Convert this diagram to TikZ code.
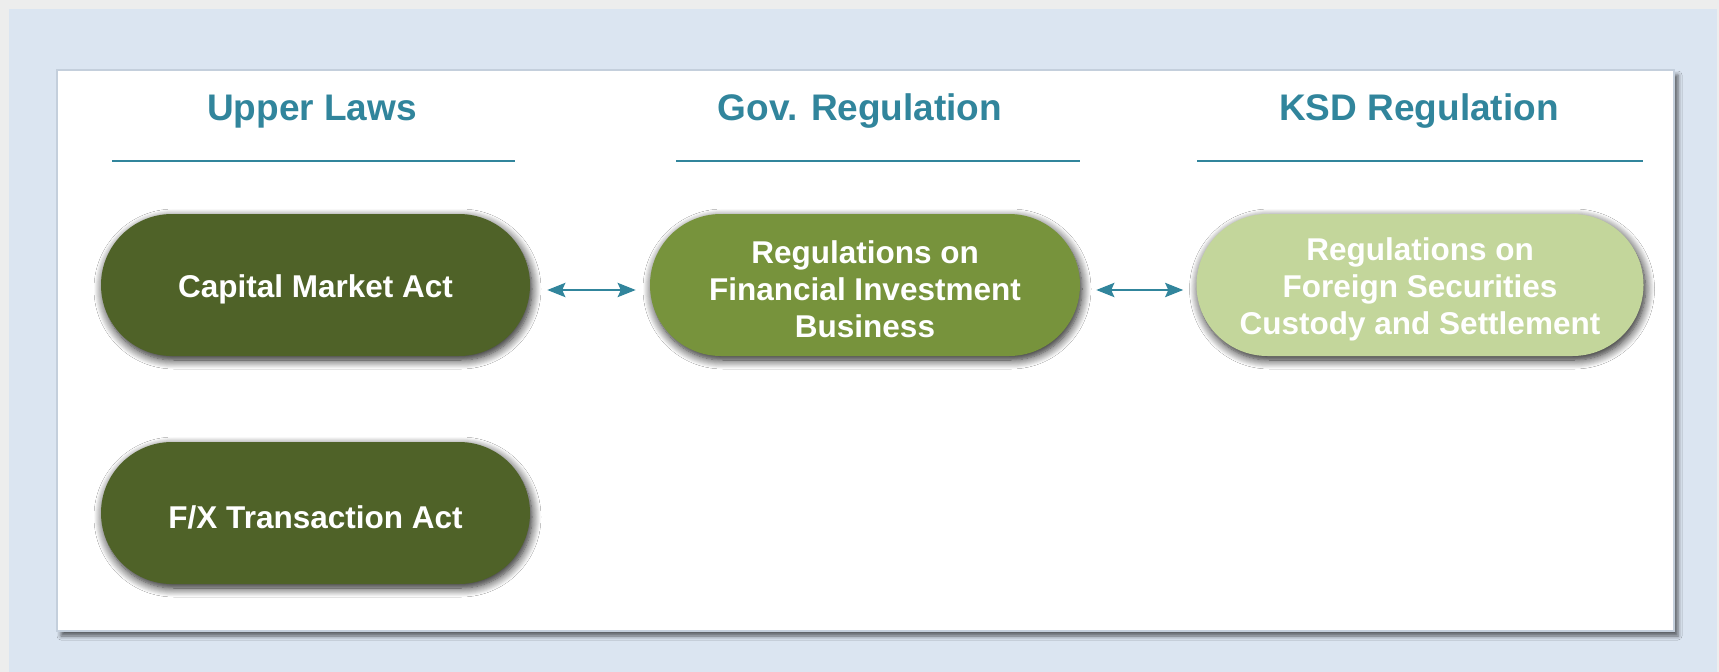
\documentclass[tikz,border=0pt]{standalone}
\usepackage{fontspec}
\setmainfont{Liberation Sans}
\usetikzlibrary{shapes.misc,shadows.blur,arrows.meta}

\definecolor{outergray}{HTML}{EDEDED}
\definecolor{bluebg}{HTML}{DBE5F1}
\definecolor{panelborder}{HTML}{C4CFDC}
\definecolor{teal}{HTML}{31859C}
\definecolor{oliveDark}{HTML}{4F6228}
\definecolor{oliveMid}{HTML}{77933C}
\definecolor{oliveLight}{HTML}{C3D69B}

\tikzset{
  panel/.style={rectangle, inner sep=0pt, fill=white, draw=panelborder, line width=1.5pt,
    blur shadow={shadow xshift=4pt, shadow yshift=-5pt, shadow blur radius=4pt, shadow opacity=60}},
  head/.style={text=teal, font=\bfseries\fontsize{37}{42}\selectfont, inner sep=0pt},
  headrule/.style={draw=teal, line width=1.6pt},
  pill/.style={rounded rectangle, inner sep=0pt, minimum height=142pt,
    blur shadow={shadow xshift=2pt, shadow yshift=-4pt, shadow blur radius=9pt, shadow opacity=90,
      shadow blur steps=10}},
  pilltext/.style={text=white, align=center, inner sep=0pt, yshift=-4pt,
    font=\bfseries\fontsize{31.5}{37}\selectfont},
  link/.style={draw=teal, line width=2.8pt,
    {Stealth[length=18pt,width=14pt,inset=3pt]}-{Stealth[length=18pt,width=14pt,inset=3pt]}},
}

\begin{document}
\begin{tikzpicture}[x=1pt,y=-1pt]
  \useasboundingbox (0,0) rectangle (1719,672);
  % backdrop and light blue slide area
  \fill[outergray] (0,0) rectangle (1719,672);
  \fill[bluebg] (9,9) rectangle (1717,672);

  % white content panel
  \node[panel, minimum width=1617pt, minimum height=561pt] (board) at (865.5,350.5) {};

  % column headings with rules
  \node[head, anchor=base] (hUpper) at (312,120) {Upper Laws};
  \node[head, anchor=base] (hGov)   at (860,120) {Gov. Regulation};
  \node[head, anchor=base] (hKsd)   at (1419,120) {KSD Regulation};
  \draw[headrule] (112,161) -- (515,161);
  \draw[headrule] (676,161) -- (1080,161);
  \draw[headrule] (1197,161) -- (1643,161);

  % regulation pills
  \node[pill, fill=oliveDark, minimum width=429pt,
    label={[pilltext]center:Capital Market Act}] (cma) at (315.5,285) {};
  \node[pill, fill=oliveMid, minimum width=430pt,
    label={[pilltext]center:{Regulations on\\Financial Investment\\Business}}] (fib) at (865,285) {};
  \node[pill, fill=oliveLight, minimum width=447pt,
    label={[pilltext]center:{Regulations on\\Foreign Securities\\Custody and Settlement}}] (fsc) at (1420,285) {};
  \node[pill, fill=oliveDark, minimum width=429pt,
    label={[pilltext]center:F/X Transaction Act}] (fxa) at (315.5,513) {};

  % two-way links
  \draw[link, shorten <=17pt, shorten >=14pt] ([yshift=-5pt]cma.east) -- ([yshift=-5pt]fib.west);
  \draw[link, shorten <=16pt, shorten >=13pt] ([yshift=-5pt]fib.east) -- ([yshift=-5pt]fsc.west);
\end{tikzpicture}
\end{document}
